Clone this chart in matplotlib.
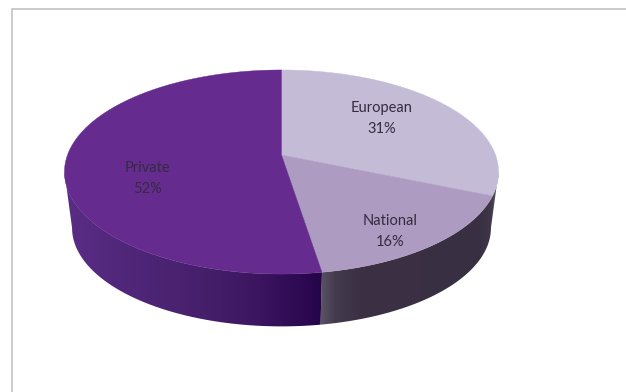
import numpy as np
import matplotlib
matplotlib.use("Agg")
import matplotlib.pyplot as plt
from matplotlib.colors import to_rgb
from matplotlib.patches import Polygon

# Funding shares
categories = ["European", "National", "Private"]
shares = [31, 16, 52]

top_colors = ["#c4bcd6", "#ae9bc1", "#652b8e"]
text_color = "#352b40"
label_centres = [(382, 118.5), (390, 231.5), (147, 178.5)]

# Projected disc geometry, in pixel-like axes units
CX = 281.5
APEX_Y = 155.0
TOP_R = 214.0
TOP_B = 99.2
PERSPECTIVE = 1 / 6
BOTTOM_SCALE = 0.965
BOTTOM_APEX_Y = 211.5

# Side shading as (x position, colour) stops
private_side = [(65, "#5a2d85"), (130, "#4f2679"), (200, "#47206c"),
                (260, "#3b1560"), (300, "#2e0a52"), (319, "#26044a")]
national_side = [(319, "#5d5668"), (335, "#443b4e"), (360, "#3b3044"),
                 (480, "#392f42"), (490, "#3f3748"), (497, "#55505e")]


def project(theta, scale=1.0, apex_y=APEX_Y):
    """Map a disc angle (clockwise from 12 o'clock) onto the tilted view."""
    u, v = np.sin(theta), np.cos(theta)
    d = 1 + PERSPECTIVE * v
    return CX + scale * TOP_R * u / d, apex_y - scale * TOP_B * v / d


def gradient_row(stops):
    xs = [s[0] for s in stops]
    rgb = np.array([to_rgb(s[1]) for s in stops])
    grid = np.arange(626) + 0.5
    return np.stack([np.interp(grid, xs, rgb[:, i]) for i in range(3)], axis=-1)[None, :, :]


def draw_wall(ax, start, stop, stops):
    """Paint a horizontal gradient clipped to the wall between two disc angles."""
    th = np.linspace(start, stop, 300)
    tx, ty = project(th)
    bx, by = project(th[::-1], BOTTOM_SCALE, BOTTOM_APEX_Y)
    outline = Polygon(np.column_stack([np.r_[tx, bx], np.r_[ty, by]]), closed=True,
                      facecolor="none", edgecolor="none", transform=ax.transData)
    ax.add_patch(outline)
    img = ax.imshow(gradient_row(stops), extent=(0, 626, 392, 0), aspect="auto",
                    interpolation="bilinear", zorder=2)
    img.set_clip_path(outline)


fig = plt.figure(figsize=(6.26, 3.92), dpi=100, facecolor="white")
ax = fig.add_axes([0, 0, 1, 1])

fractions = np.array(shares, dtype=float) / sum(shares)
edges = np.concatenate([[0], np.cumsum(fractions)]) * 2 * np.pi

# The wall runs between the two points where the rim is widest on screen
rim_right = np.arccos(-PERSPECTIVE)
rim_left = 2 * np.pi - rim_right

# Outer wall: the light wedges share one dark wall, the large wedge its own
draw_wall(ax, rim_right, edges[2], national_side)
draw_wall(ax, edges[2], rim_left, private_side)

ax.set_xlim(0, 626)
ax.set_ylim(392, 0)
ax.axis("off")

# Chart frame: only the top and left edges fall inside the canvas
ax.plot([12, 12, 626], [392, 8.5, 8.5], color="#bdbdbd", lw=1.1,
        solid_joinstyle="miter", zorder=1)

# Top face, one wedge per category
for i, colour in enumerate(top_colors):
    th = np.linspace(edges[i], edges[i + 1], 300)
    px, py = project(th)
    pts = np.column_stack([np.r_[CX, px], np.r_[APEX_Y, py]])
    ax.add_patch(Polygon(pts, closed=True, facecolor=colour, edgecolor=colour,
                         linewidth=0.3, zorder=3))

for name, share, (lx, ly) in zip(categories, shares, label_centres):
    ax.text(lx, ly, f"{name}\n{share}%", ha="center", va="center", color=text_color,
            family="Lato", fontsize=10.5, linespacing=1.55, zorder=4)

fig.savefig("out.png", dpi=100, facecolor="white")
